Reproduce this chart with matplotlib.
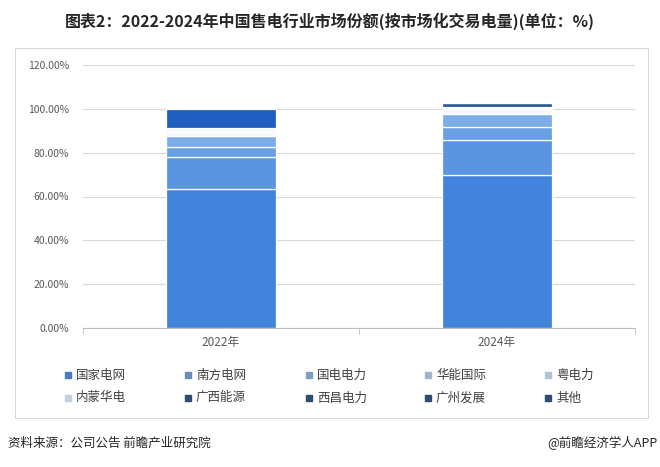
import matplotlib
matplotlib.use("Agg")
import matplotlib.pyplot as plt
from matplotlib.patches import Rectangle
import numpy as np

plt.rcParams['font.family'] = ['Noto Sans CJK SC', 'DejaVu Sans']

years = ["2022年", "2024年"]
companies = ["国家电网", "南方电网", "国电电力", "华能国际", "粤电力",
             "内蒙华电", "广西能源", "西昌电力", "广州发展", "其他"]
shares_2022 = [63.4, 14.4, 5.0, 4.6, 2.2, 1.5, 0.0, 0.0, 0.0, 8.6]
shares_2024 = [69.8, 15.8, 5.9, 6.1, 2.2, 1.2, 0.0, 0.0, 1.5, 0.0]
yticks = [0, 20, 40, 60, 80, 100, 120]

bar_colors = ["#4283db", "#5b95e1", "#6a9fe3", "#7eace8", "#f4f7fc",
              "#f7f9fd", "#234f8a", "#24508c", "#2a5594", "#1f5ebf"]
legend_colors = ["#4a7bbf", "#6a8db8", "#7e9fc2", "#9db3cb", "#aec3d9",
                 "#c2d0e0", "#2c4c70", "#2c4c70", "#2c4c70", "#2c4c70"]

fig = plt.figure(figsize=(6.6, 4.67), dpi=100)
ax = fig.add_axes([83/660, 1-328/467, (635-83)/660, (328-65)/467])

data = np.array([shares_2022, shares_2024])
x = np.arange(len(years))
bottom = np.zeros(len(years))
for j, comp in enumerate(companies):
    vals = data[:, j]
    ax.bar(x, vals, width=0.4, bottom=bottom, color=bar_colors[j],
           edgecolor="white", linewidth=0.9, zorder=3)
    bottom += vals

ax.set_xlim(-0.5, 1.5)
ax.set_ylim(0, 120)
ax.set_yticks(yticks)
ax.set_yticklabels([f"{v:.2f}%" for v in yticks], fontsize=7.5, color="#595959")
ax.yaxis.grid(True, color="#d9d9d9", linewidth=0.8, zorder=0)
ax.tick_params(axis='y', length=0, pad=10)
ax.set_xticks(x)
ax.set_xticklabels(years, fontsize=8.5, color="#595959")
ax.tick_params(axis='x', length=0, pad=6)
ax.set_xticks([-0.5, 0.5, 1.5], minor=True)
ax.tick_params(axis='x', which='minor', length=4, color="#bfbfbf", direction='out')
for s in ["top", "right", "left"]:
    ax.spines[s].set_visible(False)
ax.spines["bottom"].set_color("#bfbfbf")
ax.spines["bottom"].set_zorder(4)

# legend (manual grid)
col_x = [68, 188, 309, 428, 548]
row_y = [375, 398]
for i, comp in enumerate(companies):
    cx = col_x[i % 5]
    cy = row_y[i // 5]
    fig.patches.append(Rectangle(((cx - 3)/660, 1-(cy + 3)/467), 6/660, 6/467,
                                 transform=fig.transFigure, color=legend_colors[i]))
    fig.text((cx + 8)/660, 1-cy/467, comp, fontsize=9, color="#404040",
             va="center", ha="left")

# frame
fig.patches.append(Rectangle((15/660, 1-418/467), (648-15)/660, (418-48)/467,
                             transform=fig.transFigure, fill=False,
                             edgecolor="#d9d9d9", linewidth=0.8))

fig.text(0.5, 1-21/467, "图表2：2022-2024年中国售电行业市场份额(按市场化交易电量)(单位：%)",
         fontsize=11.5, fontweight="bold", ha="center", va="center", color="#262626")
fig.text(8/660, 1-443/467, "资料来源：公司公告 前瞻产业研究院", fontsize=9,
         ha="left", va="center", color="#262626")
fig.text(657/660, 1-443/467, "@前瞻经济学人APP", fontsize=9,
         ha="right", va="center", color="#262626")

fig.savefig("out.png", dpi=100)
